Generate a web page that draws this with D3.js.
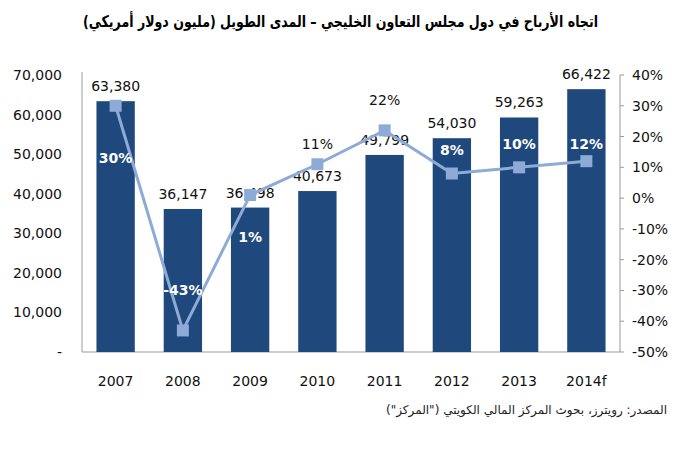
<!DOCTYPE html>
<meta charset="utf-8">
<style>
body { margin: 0; background: #fff; }
text { font-family: "DejaVu Sans", Verdana, sans-serif; }
.title { font-size: 16px; font-weight: bold; }
.tick-l, .tick-r, .year { font-size: 14px; fill: #111; }
.val { font-size: 14px; fill: #111; }
.pct-in { font-size: 14px; font-weight: bold; fill: #fff; }
.pct-out { font-size: 14px; fill: #111; }
.source { font-size: 12px; fill: #222; }
</style>
<svg width="696" height="450"></svg>
<script src="https://cdn.jsdelivr.net/npm/d3@7"></script>
<script>

// data
var years = ["2007", "2008", "2009", "2010", "2011", "2012", "2013", "2014f"];
var profits = [63380, 36147, 36498, 40673, 49799, 54030, 59263, 66422];
var growth = [30, -43, 1, 11, 22, 8, 10, 12];
// label placement for the growth labels: offset from the point, white bold inside bar or plain
var growthDy = [52, -40, 42, -20, -30, -23, -23, -17];
var growthInside = [true, true, true, false, false, true, true, true];

var svg = d3.select("svg");
var mLeft = 82, mRight = 620, mTop = 75, mBottom = 352;

var x = d3.scaleBand().domain(years).range([mLeft, mRight]).paddingInner(0.43).paddingOuter(0.215);
var y = d3.scaleLinear().domain([0, 70000]).range([mBottom, mTop]);
var y2 = d3.scaleLinear().domain([-50, 40]).range([mBottom, mTop]);

// title
svg.append("text")
    .attr("class", "title")
    .attr("x", 598).attr("y", 27)
    .attr("text-anchor", "start")
    .attr("direction", "rtl")
    .attr("textLength", 515)
    .attr("lengthAdjust", "spacingAndGlyphs")
    .text("اتجاه الأرباح في دول مجلس التعاون الخليجي – المدى الطويل (مليون دولار أمريكي)");

// axes lines
svg.append("line").attr("x1", mLeft).attr("x2", mLeft).attr("y1", mTop - 3).attr("y2", mBottom)
    .attr("stroke", "#999");
svg.append("line").attr("x1", mLeft).attr("x2", mRight).attr("y1", mBottom).attr("y2", mBottom)
    .attr("stroke", "#999");
svg.append("line").attr("x1", mRight).attr("x2", mRight).attr("y1", mTop).attr("y2", mBottom)
    .attr("stroke", "#999");

// left ticks
svg.selectAll(".tick-l")
  .data(y.ticks(7))
  .join("text")
    .attr("class", "tick-l")
    .attr("x", 62)
    .attr("y", d => y(d) + 5)
    .attr("text-anchor", "end")
    .text(d => d === 0 ? "-" : d3.format(",")(d));

// right ticks
var rticks = d3.range(-50, 41, 10);
svg.selectAll(".rt")
  .data(rticks)
  .join("line")
    .attr("class", "rt")
    .attr("x1", mRight).attr("x2", mRight + 4)
    .attr("y1", d => y2(d)).attr("y2", d => y2(d))
    .attr("stroke", "#999");
svg.selectAll(".tick-r")
  .data(rticks)
  .join("text")
    .attr("class", "tick-r")
    .attr("x", 632)
    .attr("y", d => y2(d) + 5)
    .text(d => d + "%");

// years
svg.selectAll(".year")
  .data(years)
  .join("text")
    .attr("class", "year")
    .attr("x", d => x(d) + x.bandwidth() / 2)
    .attr("y", 386)
    .attr("text-anchor", "middle")
    .text(d => d);

// bars
svg.selectAll(".bar")
  .data(profits)
  .join("rect")
    .attr("class", "bar")
    .attr("x", (d, i) => x(years[i]))
    .attr("width", x.bandwidth())
    .attr("y", d => y(d))
    .attr("height", d => mBottom - y(d))
    .attr("fill", "#1f497d");

svg.selectAll(".val")
  .data(profits)
  .join("text")
    .attr("class", "val")
    .attr("x", (d, i) => x(years[i]) + x.bandwidth() / 2)
    .attr("y", d => y(d) - 10)
    .attr("text-anchor", "middle")
    .text(d => d3.format(",")(d));

// growth line
var cx = (d, i) => x(years[i]) + x.bandwidth() / 2;
svg.append("path")
    .datum(growth)
    .attr("fill", "none")
    .attr("stroke", "#8eaad6")
    .attr("stroke-width", 3)
    .attr("d", d3.line().x(cx).y(d => y2(d)));

svg.selectAll(".mk")
  .data(growth)
  .join("rect")
    .attr("class", "mk")
    .attr("x", (d, i) => cx(d, i) - 6)
    .attr("y", d => y2(d) - 6)
    .attr("width", 12).attr("height", 12)
    .attr("fill", "#8eaad6");

svg.selectAll(".pct")
  .data(growth)
  .join("text")
    .attr("class", (d, i) => growthInside[i] ? "pct-in" : "pct-out")
    .attr("x", cx)
    .attr("y", (d, i) => y2(d) + growthDy[i] + 5)
    .attr("text-anchor", "middle")
    .text(d => d + "%");

// source
svg.append("text")
    .attr("class", "source")
    .attr("x", 667).attr("y", 414)
    .attr("text-anchor", "start")
    .attr("direction", "rtl")
    .text("المصدر: رويترز، بحوث المركز المالي الكويتي (\"المركز\")");

</script>
